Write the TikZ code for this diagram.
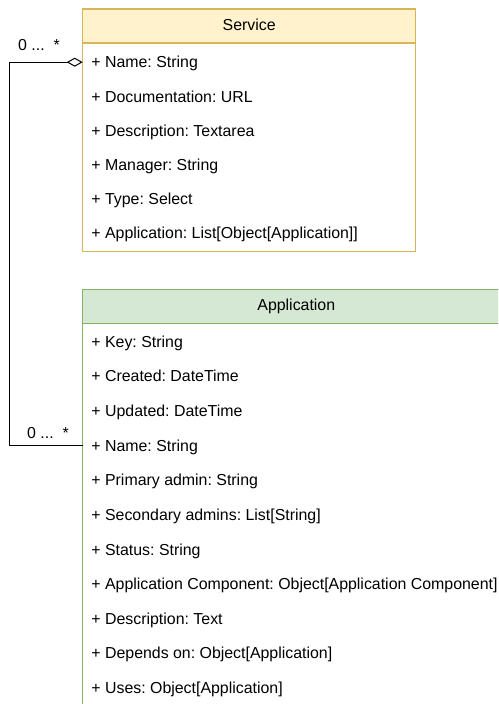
\documentclass[tikz,border=0pt]{standalone}
\usepackage{fontspec}
\setmainfont{Liberation Sans}
\usetikzlibrary{arrows.meta}
\definecolor{svcfill}{HTML}{FFF2CC}
\definecolor{svcline}{HTML}{D6B656}
\definecolor{appfill}{HTML}{D5E8D4}
\definecolor{appline}{HTML}{82B366}
\frenchspacing
\begin{document}
\begin{tikzpicture}[x=1pt,y=-1pt,
  every node/.style={font=\fontsize{15.9}{18}\selectfont, inner sep=0pt,
                     text height=11.4pt, text depth=0pt},
  field/.style={anchor=west, inner xsep=8.5pt},
  classtitle/.style={anchor=center},
  mult/.style={anchor=center},
  svcframe/.style={draw=svcline, line width=1.2pt},
  appframe/.style={draw=appline, line width=1.2pt},
  link/.style={draw=black, line width=1pt}]
\useasboundingbox (0,0) rectangle (498,704);
\clip (0,0) rectangle (498,704);

% Service class
\path[svcframe, fill=white] (82.7,9) rectangle (415.7,251.7);
\path[svcframe, fill=svcfill] (82.7,9) rectangle (415.7,43);
\node[classtitle] (svc) at (249.2,24.7) {Service};
\node[field] (s1) at (82.7,62.2) {+ Name: String};
\node[field] (s2) at (82.7,96.3) {+ Documentation: URL};
\node[field] (s3) at (82.7,130.4) {+ Description: Textarea};
\node[field] (s4) at (82.7,164.5) {+ Manager: String};
\node[field] (s5) at (82.7,198.6) {+ Type: Select};
\node[field] (s6) at (82.7,232.7) {+ Application: List[Object[Application]]};

% Application class
\path[appframe, fill=white] (82.7,289.3) rectangle (510,720);
\path[appframe, fill=appfill] (82.7,289.3) rectangle (510,323.3);
\node[classtitle] (app) at (296.3,305) {Application};
\node[field] (a1) at (82.7,341.5) {+ Key: String};
\node[field] (a2) at (82.7,376.1) {+ Created: DateTime};
\node[field] (a3) at (82.7,410.8) {+ Updated: DateTime};
\node[field] (a4) at (82.7,445.4) {+ Name: String};
\node[field] (a5) at (82.7,480.0) {+ Primary admin: String};
\node[field] (a6) at (82.7,514.7) {+ Secondary admins: List[String]};
\node[field] (a7) at (82.7,549.3) {+ Status: String};
\node[field] (a8) at (82.7,583.9) {+ Application Component: Object[Application Component]};
\node[field] (a9) at (82.7,618.5) {+ Description: Text};
\node[field] (a10) at (82.7,653.2) {+ Depends on: Object[Application]};
\node[field] (a11) at (82.7,687.8) {+ Uses: Object[Application]};

% Aggregation between the two classes
\draw[link, {Diamond[open,length=16pt,width=9pt]}-] (s1.west) -- ++(-73.4,0) |- (a4.west);
\node[mult] (m1) at (39,44.8) {0 ...\ \ *};
\node[mult] (m2) at (48,432.8) {0 ...\ \ *};
\end{tikzpicture}
\end{document}
